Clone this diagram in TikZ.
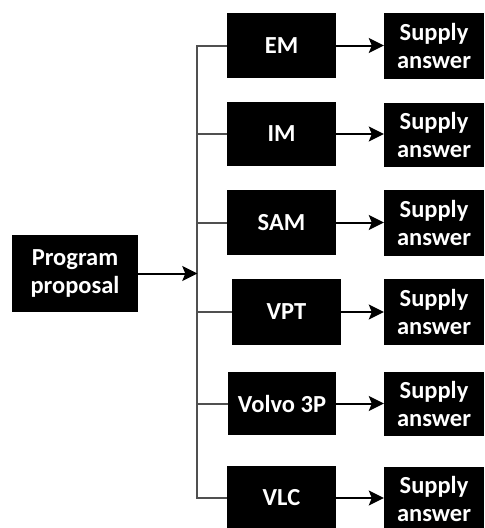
\documentclass[tikz,border=0pt]{standalone}
\usepackage{fontspec}
\setmainfont{Carlito}
\usetikzlibrary{arrows.meta}
\tikzset{
  box/.style={fill=black, draw=none, text=white, font=\bfseries\fontsize{24.5}{28}\selectfont,
    align=center, inner sep=0pt, minimum width=#1},
  box/.default=109pt,
  arrowline/.style={line width=2pt, black,
    -{Stealth[length=15pt,width=15pt,inset=3pt]}},
  branch/.style={line width=2pt, draw={rgb,255:red,80;green,80;blue,80}},
}
\begin{document}
\begin{tikzpicture}[x=1pt, y=-1pt]
\useasboundingbox (0,0) rectangle (485,528);

% source box
\node[box=126pt, minimum height=77pt] (prog) at (75,273.5) {Program\\proposal};
\coordinate (join) at (197.3,273.5);

% middle column
\node[box, minimum height=65pt] (em)    at (281.5,45.5)  {EM};
\node[box, minimum height=64pt] (im)    at (281.5,134)   {IM};
\node[box, minimum height=65pt] (sam)   at (281.5,222.5) {SAM};
\node[box, minimum height=66pt] (vpt)   at (286.5,312)   {VPT};
\node[box=108pt, minimum height=63pt] (volvo) at (282,403.5) {Volvo 3P};
\node[box, minimum height=64pt] (vlc)   at (281.5,498)   {VLC};

% answer column
\node[box=100pt, minimum height=66pt] (a1) at (434,45.5)  {Supply\\answer};
\node[box=100pt, minimum height=64pt] (a2) at (434,134.5) {Supply\\answer};
\node[box=100pt, minimum height=66pt] (a3) at (434,223)   {Supply\\answer};
\node[box=100pt, minimum height=66pt] (a4) at (434,312)   {Supply\\answer};
\node[box=100pt, minimum height=64pt] (a5) at (434,404)   {Supply\\answer};
\node[box=100pt, minimum height=64pt] (a6) at (434,498.5) {Supply\\answer};

% distribution lines
\foreach \n in {em,im,sam,vpt,volvo,vlc}
  \draw[branch] (join) |- (\n.west);

\draw[arrowline] (prog.east) -- (join);

% arrows to answers
\draw[arrowline] (em.east)    -- (em.east -| a1.west);
\draw[arrowline] (im.east)    -- (im.east -| a2.west);
\draw[arrowline] (sam.east)   -- (sam.east -| a3.west);
\draw[arrowline] (vpt.east)   -- (vpt.east -| a4.west);
\draw[arrowline] (volvo.east) -- (volvo.east -| a5.west);
\draw[arrowline] (vlc.east)   -- (vlc.east -| a6.west);
\end{tikzpicture}
\end{document}
